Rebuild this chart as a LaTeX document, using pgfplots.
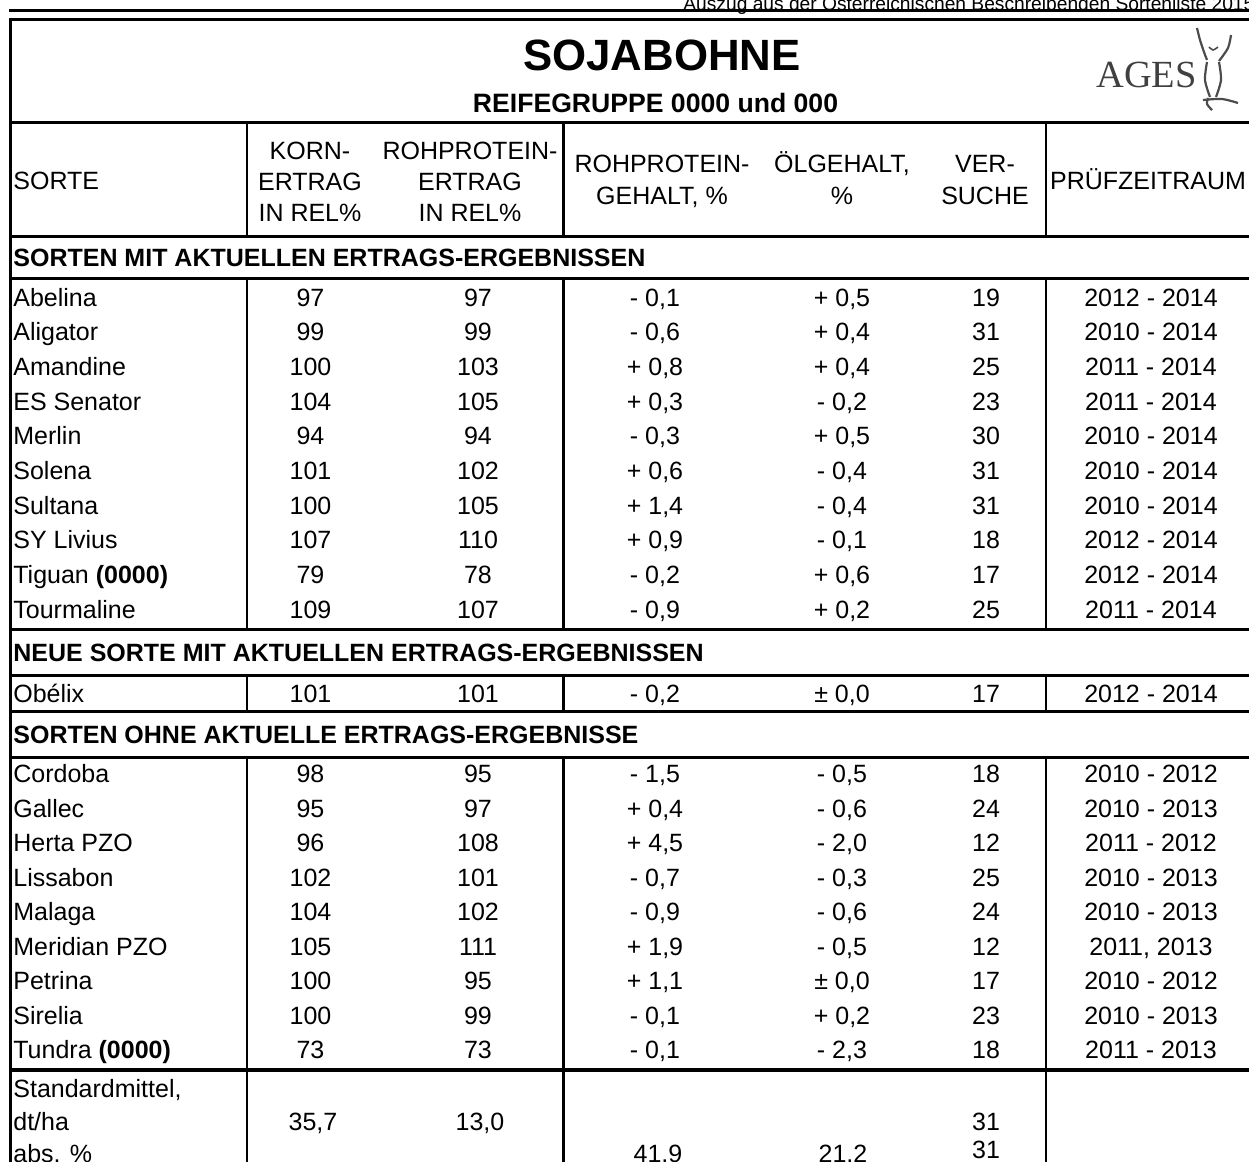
\documentclass[border=0pt]{standalone}
\usepackage{pgfplots}
\pgfplotsset{compat=1.18}
\usepackage{pgfplotstable}
\usepackage{fontspec}
\setmainfont{Liberation Sans}
\newfontfamily\agesfont{Liberation Serif}
\newcommand\bodyf{\fontsize{12.5}{15}\selectfont}
\newcommand\boldf{\fontsize{12.5}{15}\selectfont\bfseries}
\newcommand\titlef{\fontsize{21.9}{26}\selectfont\bfseries}
\newcommand\subf{\fontsize{13.3}{16}\selectfont\bfseries}
\newcommand\capf{\fontsize{9.6}{12}\selectfont}
\newcommand\agesf{\fontsize{19.2}{22}\selectfont\agesfont}

\pgfplotstableread[col sep=semicolon,row sep=\\]{
y;name;k;re;rg;oe;v;z\\
306;Abelina;97;97;- 0,1;+ 0,5;19;2012 - 2014\\
340.7;Aligator;99;99;- 0,6;+ 0,4;31;2010 - 2014\\
375.4;Amandine;100;103;+ 0,8;+ 0,4;25;2011 - 2014\\
410.1;ES Senator;104;105;+ 0,3;- 0,2;23;2011 - 2014\\
444.8;Merlin;94;94;- 0,3;+ 0,5;30;2010 - 2014\\
479.5;Solena;101;102;+ 0,6;- 0,4;31;2010 - 2014\\
514.2;Sultana;100;105;+ 1,4;- 0,4;31;2010 - 2014\\
548.9;SY Livius;107;110;+ 0,9;- 0,1;18;2012 - 2014\\
583.6;Tiguan \textbf{(0000)};79;78;- 0,2;+ 0,6;17;2012 - 2014\\
618.3;Tourmaline;109;107;- 0,9;+ 0,2;25;2011 - 2014\\
702;Obélix;101;101;- 0,2;± 0,0;17;2012 - 2014\\
782.5;Cordoba;98;95;- 1,5;- 0,5;18;2010 - 2012\\
817;Gallec;95;97;+ 0,4;- 0,6;24;2010 - 2013\\
851.5;Herta PZO;96;108;+ 4,5;- 2,0;12;2011 - 2012\\
886;Lissabon;102;101;- 0,7;- 0,3;25;2010 - 2013\\
920.5;Malaga;104;102;- 0,9;- 0,6;24;2010 - 2013\\
955;Meridian PZO;105;111;+ 1,9;- 0,5;12;2011, 2013\\
989.5;Petrina;100;95;+ 1,1;± 0,0;17;2010 - 2012\\
1024;Sirelia;100;99;- 0,1;+ 0,2;23;2010 - 2013\\
1058.5;Tundra \textbf{(0000)};73;73;- 0,1;- 2,3;18;2011 - 2013\\
}\sorten

\pgfplotstableread[col sep=semicolon,row sep=\\]{
x;y;t\\
310;159;KORN-\\
310;190;ERTRAG\\
310;221;IN REL\%\\
470;159;ROHPROTEIN-\\
470;190;ERTRAG\\
470;221;IN REL\%\\
662;172;ROHPROTEIN-\\
662;204;GEHALT, \%\\
842;172;ÖLGEHALT,\\
842;204;\%\\
985;172;VER-\\
985;204;SUCHE\\
1148;189;PRÜFZEITRAUM\\
313;1130;35,7\\
480;1130;13,0\\
986;1130;31\\
986;1158;31\\
658;1162;41,9\\
843;1162;21,2\\
}\ctrtexts

\pgfplotstableread[col sep=semicolon,row sep=\\]{
x;y;t\\
13;189;SORTE\\
13;1097;Standardmittel,\\
13;1130;dt/ha\\
13;1162;abs. \%\\
}\lfttexts

\pgfplotstableread[col sep=semicolon,row sep=\\]{
x;y;t\\
13;266;SORTEN MIT AKTUELLEN ERTRAGS-ERGEBNISSEN\\
13;661;NEUE SORTE MIT AKTUELLEN ERTRAGS-ERGEBNISSEN\\
13;743;SORTEN OHNE AKTUELLE ERTRAGS-ERGEBNISSE\\
}\sections

\pgfplotsset{
  txt/.style={only marks, mark=*, mark size=0pt, mark options={draw=none,fill=none},
    color=black, point meta=explicit symbolic, nodes near coords, forget plot,
    every node near coord/.append style={inner sep=0pt, text=black, font=\bodyf}},
  ctr/.style={txt, every node near coord/.append style={anchor=base}},
  lft/.style={txt, every node near coord/.append style={anchor=base west}},
  hl/.style={black, line width=1.5pt, no markers, forget plot},
  vl/.style={black, line width=1.3pt, no markers, forget plot},
  logo/.style={color=black!70, line width=1.1pt, no markers, smooth, forget plot},
}
\newcommand\hrl[2][1.5pt]{\addplot[hl, line width=#1] coordinates {(9,#2) (1249,#2)};}
\newcommand\vseg[3]{\addplot[vl] coordinates {(#1,#2) (#1,#3)};}

\begin{document}
\begin{tikzpicture}
\begin{axis}[scale only axis, width=624.5pt, height=581pt,
  xmin=0, xmax=1249, ymin=0, ymax=1162, y dir=reverse,
  hide axis, clip=false]

% rules
\hrl[1.35pt]{10.7}
\hrl{19.7}
\hrl{122.3}
\hrl{236}
\hrl{278}
\hrl{629.5}
\hrl{675}
\hrl{711}
\hrl{757}
\hrl[1.8pt]{1070}
\addplot[vl, line width=1.6pt] coordinates {(10.5,18.2) (10.5,1162)};
\vseg{247}{122.3}{236}
\vseg{563.5}{122.3}{236}
\vseg{1046}{122.3}{236}
\vseg{247}{278}{629.5}
\vseg{563.5}{278}{629.5}
\vseg{1046}{278}{629.5}
\vseg{247}{675}{711}
\vseg{563.5}{675}{711}
\vseg{1046}{675}{711}
\vseg{247}{757}{1162}
\vseg{563.5}{757}{1162}
\vseg{1046}{757}{1162}

% caption, titles
\addplot[txt, every node near coord/.append style={anchor=base west, font=\capf}]
  table[col sep=semicolon,row sep=\\,x=x,y=y,meta=t]
  {x;y;t\\683;10.6;Auszug aus der Österreichischen Beschreibenden Sortenliste 2015\\};
\addplot[ctr, every node near coord/.append style={font=\titlef}]
  table[col sep=semicolon,row sep=\\,x=x,y=y,meta=t]
  {x;y;t\\662;70.7;SOJABOHNE\\};
\addplot[ctr, every node near coord/.append style={font=\subf}]
  table[col sep=semicolon,row sep=\\,x=x,y=y,meta=t]
  {x;y;t\\655.5;112.5;REIFEGRUPPE 0000 und 000\\};
\addplot[txt, every node near coord/.append style={anchor=base west, font=\agesf, text=black!75}]
  table[col sep=semicolon,row sep=\\,x=x,y=y,meta=t]
  {x;y;t\\1096;87;AGES\\};

% logo figure
\addplot[logo] coordinates {(1197,28) (1200,40) (1204,52) (1207,60)};
\addplot[logo] coordinates {(1231,35) (1228,48) (1219,61)};
\addplot[logo, line width=0.8pt] coordinates {(1209,47) (1213,50) (1218,47)};
\addplot[logo] coordinates {(1207,62) (1205,80) (1210,97)};
\addplot[logo] coordinates {(1219,62) (1221,80) (1216,97)};
\addplot[logo] coordinates {(1203,100) (1222,99) (1238,103)};
\addplot[logo] coordinates {(1208,98) (1207,104) (1212,110)};
\end{axis}
\pgfresetboundingbox
\path[use as bounding box] (current axis.south west) rectangle (current axis.north east);
\begin{axis}[scale only axis, width=624.5pt, height=581pt,
  xmin=0, xmax=1249, ymin=0, ymax=1162, y dir=reverse,
  hide axis, clip=false]
% headers and labels
\addplot[ctr] table[x=x,y=y,meta=t]{\ctrtexts};
\addplot[lft] table[x=x,y=y,meta=t]{\lfttexts};
\addplot[lft, every node near coord/.append style={font=\boldf}] table[x=x,y=y,meta=t]{\sections};

% data
\addplot[lft] table[x expr=13,y=y,meta=name]{\sorten};
\addplot[ctr] table[x expr=310.5,y=y,meta=k]{\sorten};
\addplot[ctr] table[x expr=478,y=y,meta=re]{\sorten};
\addplot[ctr] table[x expr=655,y=y,meta=rg]{\sorten};
\addplot[ctr] table[x expr=842,y=y,meta=oe]{\sorten};
\addplot[ctr] table[x expr=986,y=y,meta=v]{\sorten};
\addplot[ctr] table[x expr=1151,y=y,meta=z]{\sorten};
\end{axis}
\end{tikzpicture}
\end{document}
